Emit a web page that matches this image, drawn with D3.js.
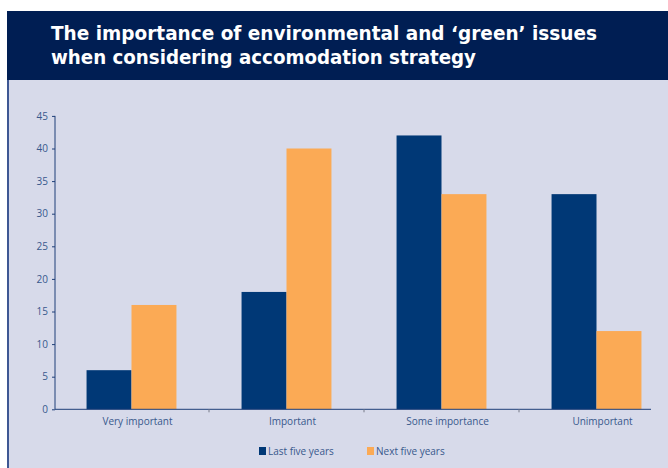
<!DOCTYPE html>
<html>

<head>
    <script src="https://d3js.org/d3.v7.min.js"></script>
    <title>Green issues chart</title>
    <meta charset="UTF-8">
    <style type="text/css">
        body { margin: 0; background: #ffffff; }
    </style>
</head>

<body>
    <script type="text/javascript">
        // data
        var categories = ["Very important", "Important", "Some importance", "Unimportant"];
        var seriesNames = ["Last five years", "Next five years"];
        var lastFive = [6, 18, 42, 33];
        var nextFive = [16, 40, 33, 12];
        var yTicks = [0, 5, 10, 15, 20, 25, 30, 35, 40, 45];
        var titleLines = ["The importance of environmental and \u2018green\u2019 issues",
            "when considering accomodation strategy"];

        var colors = ["#003876", "#fbaa55"];
        var textColor = "#37588c";

        var W = 668, H = 468;

        var svg = d3.select("body").append("svg")
            .attr("width", W)
            .attr("height", H);

        // panel background and header
        svg.append("rect").attr("x", 7).attr("y", 80).attr("width", W - 7).attr("height", H - 80)
            .attr("fill", "#d7daea");
        svg.append("rect").attr("x", 7).attr("y", 80).attr("width", 2).attr("height", H - 80)
            .attr("fill", "#3e5793");
        svg.append("rect").attr("x", 7).attr("y", 11).attr("width", W - 7).attr("height", 69)
            .attr("fill", "#001e53");

        svg.selectAll(".title")
            .data(titleLines)
            .enter().append("text")
            .attr("class", "title")
            .attr("x", 51)
            .attr("y", function (d, i) { return 39.5 + i * 24; })
            .attr("fill", "#ffffff")
            .style("font-family", "'DejaVu Sans Condensed', 'DejaVu Sans', sans-serif")
            .style("font-stretch", "condensed")
            .style("font-weight", "bold")
            .style("font-size", "20px")
            .attr("textLength", function (d, i) { return i == 0 ? 546 : 425; })
            .attr("lengthAdjust", "spacingAndGlyphs")
            .text(function (d) { return d; });

        //scales
        var y = d3.scaleLinear().domain([0, 45]).range([409.3, 115.9]);
        var x0 = d3.scaleBand().domain(categories).range([54, 674]).paddingInner(0.42).paddingOuter(0.21);
        var x1 = d3.scaleBand().domain(seriesNames).range([0, x0.bandwidth()]);

        var table = categories.map(function (c, i) {
            return { cat: c, vals: [lastFive[i], nextFive[i]] };
        });

        var groups = svg.selectAll(".grp")
            .data(table)
            .enter().append("g")
            .attr("class", "grp")
            .attr("transform", function (d) { return "translate(" + x0(d.cat) + ",0)"; });

        groups.selectAll("rect")
            .data(function (d) { return d.vals.map(function (v, j) { return { s: seriesNames[j], v: v, j: j }; }); })
            .enter().append("rect")
            .attr("x", function (d) { return x1(d.s); })
            .attr("width", x1.bandwidth())
            .attr("y", function (d) { return y(d.v); })
            .attr("height", function (d) { return y(0) - y(d.v); })
            .attr("fill", function (d) { return colors[d.j]; });

        // y axis
        var yAxis = svg.append("g")
            .attr("transform", "translate(55,0)")
            .call(d3.axisLeft(y).tickValues(yTicks).tickSize(3).tickPadding(4));
        yAxis.select(".domain").attr("stroke", "#1f3f78").attr("d", "M0," + y(45) + "V" + y(0));
        yAxis.selectAll(".tick line").attr("stroke", "#1f3f78");
        yAxis.selectAll("text").attr("fill", textColor)
            .style("font-family", "'Open Sans', sans-serif").style("font-size", "10px");

        // x axis: ticks between groups
        var step = x0.step();
        var bounds = categories.slice(1).map(function (c) { return x0(c) - (step - x0.bandwidth()) / 2; });
        svg.append("line").attr("x1", 55).attr("x2", 651).attr("y1", y(0)).attr("y2", y(0))
            .attr("stroke", "#1f3f78").attr("stroke-width", 1);
        svg.selectAll(".xtick").data(bounds).enter().append("line")
            .attr("x1", function (d) { return d; }).attr("x2", function (d) { return d; })
            .attr("y1", y(0)).attr("y2", y(0) + 3)
            .attr("stroke", "#777a88");

        svg.selectAll(".xlab").data(categories).enter().append("text")
            .attr("x", function (d) { return x0(d) + x0.bandwidth() / 2 + 6; })
            .attr("y", 425)
            .attr("text-anchor", "middle")
            .attr("fill", textColor)
            .style("font-family", "'Open Sans', sans-serif").style("font-size", "10px")
            .text(function (d) { return d; });

        // legend
        var legend = svg.selectAll(".leg").data(seriesNames).enter().append("g")
            .attr("transform", function (d, i) { return "translate(" + (259 + i * 108) + ",447)"; });
        legend.append("rect").attr("width", 7).attr("height", 8)
            .attr("fill", function (d, i) { return colors[i]; });
        legend.append("text").attr("x", 9).attr("y", 7.5)
            .attr("fill", textColor)
            .style("font-family", "'Open Sans', sans-serif").style("font-size", "10px")
            .text(function (d) { return d; });
    </script>
</body>

</html>
